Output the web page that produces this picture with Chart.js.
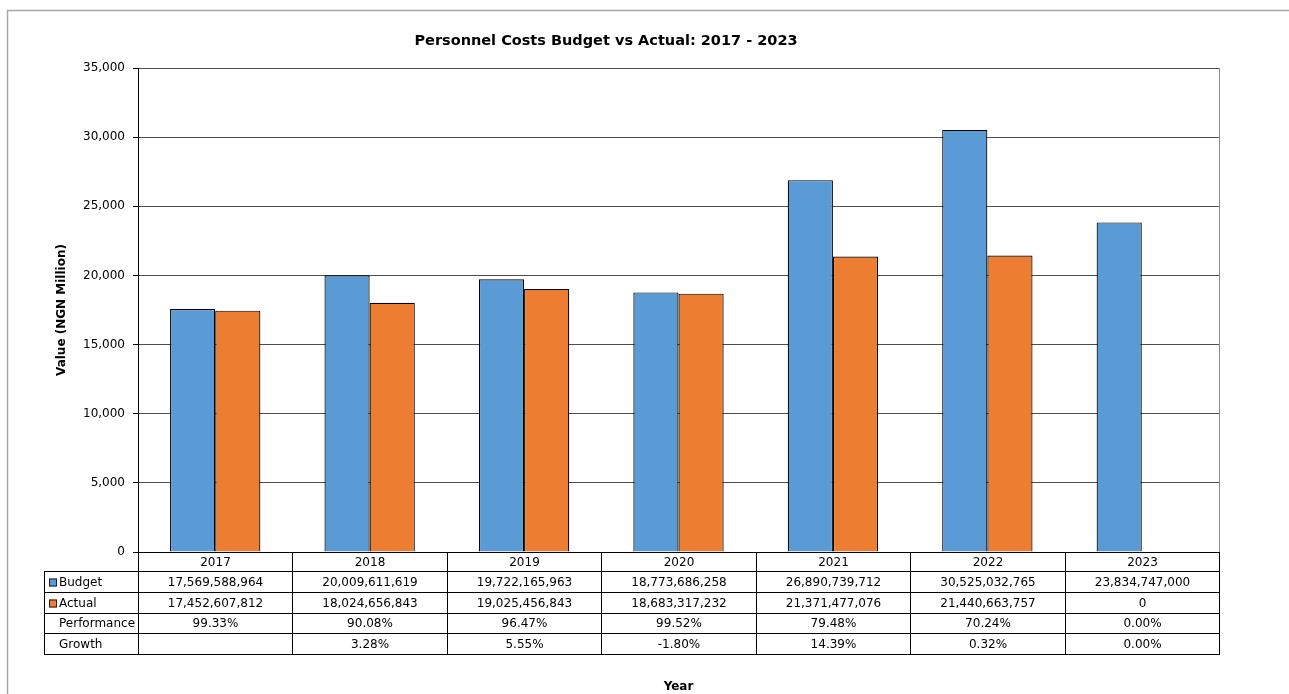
<!DOCTYPE html>
<html>
<head>
<meta charset="utf-8">
<script src="https://cdn.jsdelivr.net/npm/chart.js@4/dist/chart.umd.min.js"></script>
<style>
  html, body { margin:0; padding:0; background:#fff; }
  #wrap { width:1289px; height:694px; position:relative; }
</style>
</head>
<body>
<div id="wrap"><canvas id="chart" width="1289" height="694"></canvas></div>
<script>
const years = ['2017','2018','2019','2020','2021','2022','2023'];
const budget = [17569588964, 20009611619, 19722165963, 18773686258, 26890739712, 30525032765, 23834747000];
const actual = [17452607812, 18024656843, 19025456843, 18683317232, 21371477076, 21440663757, 0];
const performance = [99.33, 90.08, 96.47, 99.52, 79.48, 70.24, 0.00];
const growth = [null, 3.28, 5.55, -1.80, 14.39, 0.32, 0.00];
const yTicks = [0, 5000, 10000, 15000, 20000, 25000, 30000, 35000];

const FONT = 'DejaVu Sans, Verdana, sans-serif';
const blue = '#5B9BD5', orange = '#ED7D31';

const fmt = n => n.toLocaleString('en-US');
const pct = n => n === null ? '' : n.toFixed(2) + '%';

// outer frame, title and the data table under the plot
const tablePlugin = {
  id: 'dataTable',
  beforeDraw(chart){
    const c = chart.ctx;
    c.save();
    c.strokeStyle = '#a6a6a6'; c.lineWidth = 1.5;
    c.beginPath(); c.moveTo(7.5, 694); c.lineTo(7.5, 10.5); c.lineTo(1289, 10.5); c.stroke();
    c.restore();
  },
  afterDraw(chart){
    const c = chart.ctx, a = chart.chartArea, x = chart.scales.x;
    const n = years.length, w = (x.right - x.left) / n;
    const cols = years.map((_, i) => Math.round(x.left + i * w));
    cols.push(Math.round(x.right));
    const rowH = [19, 20.75, 20.75, 20.75, 20.75];
    const rows = [Math.round(a.bottom)];
    rowH.forEach(h => rows.push(rows[rows.length - 1] + h));
    const rowY = rows.map(r => Math.round(r) + 0.5);
    const labelLeft = 44;

    c.save();
    // plot area right border
    c.strokeStyle = '#8c8c8c'; c.lineWidth = 1;
    c.beginPath(); c.moveTo(cols[n] + 0.5, a.top); c.lineTo(cols[n] + 0.5, a.bottom); c.stroke();

    c.strokeStyle = '#000'; c.lineWidth = 1;
    c.beginPath();
    // horizontal rules
    c.moveTo(cols[0], rowY[0]); c.lineTo(cols[n] + 1, rowY[0]);
    for (let r = 1; r < rowY.length; r++){ c.moveTo(labelLeft, rowY[r]); c.lineTo(cols[n] + 1, rowY[r]); }
    // vertical rules
    cols.forEach(cx => { c.moveTo(cx + 0.5, rowY[0]); c.lineTo(cx + 0.5, rowY[rowY.length - 1]); });
    c.moveTo(labelLeft + 0.5, rowY[1]); c.lineTo(labelLeft + 0.5, rowY[rowY.length - 1]);
    c.stroke();

    c.fillStyle = '#000';
    c.font = '12px ' + FONT;
    c.textBaseline = 'middle';
    const mid = r => (rowY[r] + rowY[r + 1]) / 2 + 0.5;
    const rowsData = [
      years,
      budget.map(fmt),
      actual.map(fmt),
      performance.map(pct),
      growth.map(pct)
    ];
    c.textAlign = 'center';
    rowsData.forEach((vals, r) => {
      vals.forEach((v, i) => c.fillText(v, (cols[i] + cols[i + 1]) / 2 + 0.5, mid(r)));
    });

    // row labels with legend keys
    const names = ['Budget', 'Actual', 'Performance', 'Growth'];
    const keys = [blue, orange, null, null];
    c.textAlign = 'left';
    names.forEach((nm, k) => {
      const y = mid(k + 1);
      if (keys[k]){
        c.fillStyle = keys[k]; c.fillRect(49, y - 4, 8, 8);
        c.strokeStyle = '#1f1f1f'; c.strokeRect(49.5, y - 3.5, 7, 7);
      }
      c.fillStyle = '#000';
      c.fillText(nm, 59, y);
    });

    // chart title
    c.font = 'bold 14.5px ' + FONT;
    c.textAlign = 'center';
    c.fillText('Personnel Costs Budget vs Actual: 2017 - 2023', 606, 41);
    c.restore();
  }
};

new Chart(document.getElementById('chart'), {
  type: 'bar',
  data: {
    labels: years,
    datasets: [
      { label: 'Budget', data: budget.map(v => v / 1e6), backgroundColor: blue, borderColor: '#000', borderWidth: 1.2 },
      { label: 'Actual', data: actual.map(v => v / 1e6), backgroundColor: orange, borderColor: '#000', borderWidth: 1.2 }
    ]
  },
  options: {
    responsive: false,
    animation: false,
    layout: { padding: { top: 68, right: 70, left: 0, bottom: 0 } },
    datasets: { bar: { categoryPercentage: 0.585, barPercentage: 1 } },
    plugins: { legend: { display: false }, tooltip: { enabled: false }, title: { display: false } },
    scales: {
      x: {
        ticks: { display: false },
        grid: { display: false },
        border: { display: false },
        title: { display: true, text: 'Year', color: '#000', font: { family: FONT, size: 12, weight: 'bold' }, padding: 0 },
        afterFit(s){ s.height = 142; }
      },
      y: {
        min: 0, max: 35000,
        afterBuildTicks(s){ s.ticks = yTicks.map(v => ({ value: v })); },
        ticks: { color: '#000', font: { family: FONT, size: 12 }, padding: 8, callback: v => fmt(v) },
        grid: { color: '#4d4d4d', tickColor: '#000', tickLength: 5, lineWidth: 1 },
        border: { color: '#000', width: 1 },
        title: { display: true, text: 'Value (NGN Million)', color: '#000', font: { family: FONT, size: 12, weight: 'bold' }, padding: { top: 55, bottom: 0 } },
        afterFit(s){ s.width = 138; }
      }
    }
  },
  plugins: [tablePlugin]
});
</script>
</body>
</html>
